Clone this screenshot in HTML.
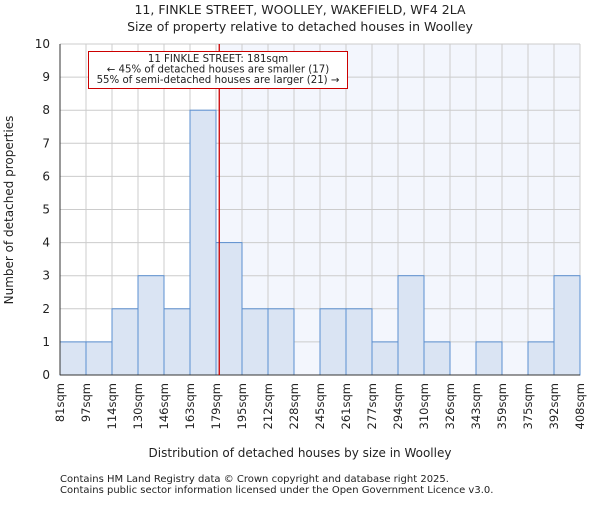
<!DOCTYPE html>
<html><head><meta charset="utf-8"><style>
body{margin:0;background:#fff;font-family:"Liberation Sans","DejaVu Sans",sans-serif;}
svg text{font-family:"DejaVu Sans","Liberation Sans",sans-serif;fill:#222;}
</style></head><body>
<svg width="600" height="500" xmlns="http://www.w3.org/2000/svg">
<text x="300" y="14" text-anchor="middle" font-size="12.5">11, FINKLE STREET, WOOLLEY, WAKEFIELD, WF4 2LA</text>
<text x="300" y="31" text-anchor="middle" font-size="12.5">Size of property relative to detached houses in Woolley</text>
<g id="plot"></g>
<text x="300" y="457" text-anchor="middle" font-size="12">Distribution of detached houses by size in Woolley</text>
<text transform="translate(13,210) rotate(-90)" text-anchor="middle" font-size="12">Number of detached properties</text>
<text x="60" y="482" font-size="10" fill="#555">Contains HM Land Registry data © Crown copyright and database right 2025.</text>
<text x="60" y="493" font-size="10" fill="#555">Contains public sector information licensed under the Open Government Licence v3.0.</text>
</svg>
<script>
const categories=["81sqm","97sqm","114sqm","130sqm","146sqm","163sqm","179sqm","195sqm","212sqm","228sqm","245sqm","261sqm","277sqm","294sqm","310sqm","326sqm","343sqm","359sqm","375sqm","392sqm","408sqm"];
const counts=[1,1,2,3,2,8,4,2,2,0,2,2,1,3,1,0,1,0,1,3];
const yTicks=[0,1,2,3,4,5,6,7,8,9,10];
const propertySize=181;
const binEdges=[81,97,114,130,146,163,179,195,212,228,245,261,277,294,310,326,343,359,375,392,408];
const NS="http://www.w3.org/2000/svg";
const L=60,R=580,T=44,B=375,yMax=10;
const bw=(R-L)/counts.length;
const y=v=>B-(B-T)*v/yMax;
const xi=i=>L+i*bw;
function xv(v){for(let i=0;i<binEdges.length-1;i++){if(v<=binEdges[i+1])return xi(i)+bw*(v-binEdges[i])/(binEdges[i+1]-binEdges[i]);}return R;}
const g=document.getElementById('plot');
function mk(t,a){const e=document.createElementNS(NS,t);for(const k in a)e.setAttribute(k,a[k]);g.appendChild(e);return e;}
const px=xv(propertySize);
let e=mk('rect',{x:px,y:T,width:R-px,height:B-T,fill:'#f3f6fd'});


for(const t of yTicks){e=mk('line',{x1:L,x2:R,y1:y(t),y2:y(t),stroke:'#ccc','stroke-width':1});

}
for(let i=0;i<categories.length;i++){e=mk('line',{x1:xi(i),x2:xi(i),y1:T,y2:B,stroke:'#ccc','stroke-width':1});

}
counts.forEach((c,i)=>{if(c<=0)return;e=mk('rect',{x:xi(i),y:y(c),width:bw,height:B-y(c),fill:'#dae4f3',stroke:'#5b8fd0','stroke-width':1});

});
e=mk('line',{x1:L,x2:L,y1:T,y2:B,stroke:'#333'});


e=mk('line',{x1:L,x2:R,y1:B,y2:B,stroke:'#333'});


for(const t of yTicks){e=mk('text',{x:L-10,y:y(t)+4,'text-anchor':'end','font-size':12});e.textContent=t;

}
categories.forEach((c,i)=>{const x=xi(i);e=mk('text',{transform:`translate(${x+4},${B+8}) rotate(-90)`,'text-anchor':'end','font-size':11.5});e.textContent=c;

});
e=mk('line',{x1:px,x2:px,y1:T,y2:B,stroke:'#c00','stroke-width':1.3});


e=mk('rect',{x:88.5,y:51.5,width:259,height:37,fill:'#fff',stroke:'#c00','stroke-width':1});


["11 FINKLE STREET: 181sqm","← 45% of detached houses are smaller (17)","55% of semi-detached houses are larger (21) →"].forEach((s,i)=>{e=mk('text',{x:218,y:62+i*10.5,'text-anchor':'middle','font-size':10.2});e.textContent=s;

});
</script>
</body></html>
